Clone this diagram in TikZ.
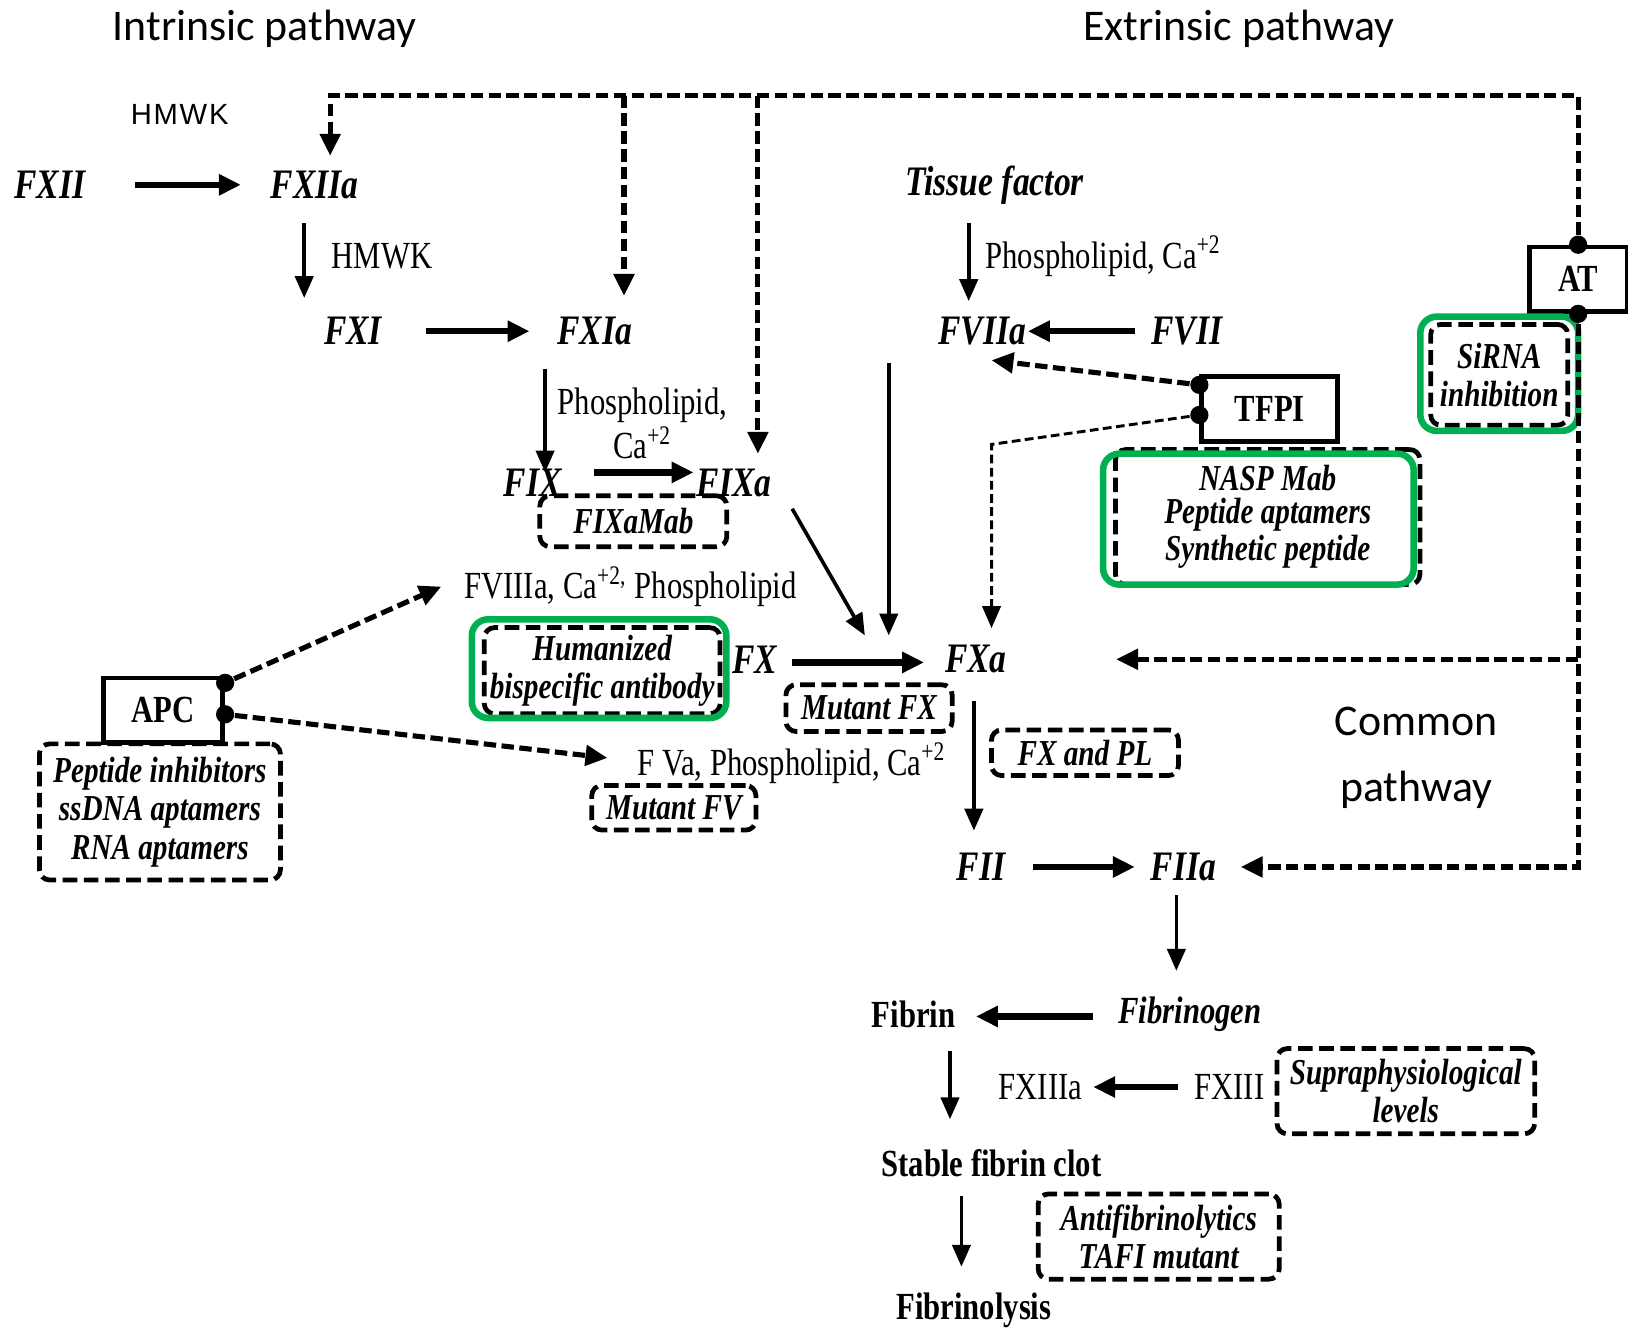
\documentclass[tikz,border=0pt]{standalone}
\usepackage{fontspec}
\setmainfont{Liberation Serif}[FakeStretch=0.8]
\newfontfamily\calfont{Carlito}
\newfontfamily\arialfont{Liberation Sans}[LetterSpace=6]
\usetikzlibrary{arrows.meta,calc}
\definecolor{boxgreen}{RGB}{0,176,80}

\tikzset{
  fac/.style={font=\fontsize{11.5}{14}\selectfont\bfseries\itshape, inner sep=1pt},
  plain/.style={font=\fontsize{10.5}{12}\selectfont, inner sep=1pt},
  strong/.style={font=\fontsize{10.5}{12}\selectfont\bfseries, inner sep=1pt},
  title/.style={font=\fontsize{12}{18}\selectfont\calfont, align=center},
  arr/.style={line width=1pt, -{Triangle[width=5pt,length=6pt]}},
  fatarr/.style={line width=1.7pt, -{Triangle[width=5.5pt,length=6pt]}},
  dline/.style={line width=1.4pt, dash pattern=on 3.4pt off 1.5pt},
  darr/.style={dline, -{Triangle[width=5.5pt,length=6pt]}},
  thinarr/.style={line width=0.8pt, dash pattern=on 2.4pt off 1.2pt, -{Triangle[width=5pt,length=6pt]}},
  cutbox/.style={draw, line width=1.3pt, dash pattern=on 4pt off 1.8pt, rounded corners=2.8pt,
    align=center, font=\fontsize{10}{10.5}\selectfont\bfseries\itshape, inner sep=0pt},
  inhib/.style={draw, line width=1.3pt, font=\fontsize{10.5}{12}\selectfont\bfseries, inner sep=0pt},
  greenbox/.style={draw=boxgreen, line width=1.8pt, rounded corners=4.5pt, inner sep=0pt},
  knob/.style={circle, fill, inner sep=0pt, minimum size=5pt},
}

\begin{document}
\begin{tikzpicture}[x=0.01cm, y=-0.01cm]
\useasboundingbox (0,0) rectangle (1568,1279);

% titles
\node[title] (intr) at (255,28) {Intrinsic pathway};
\node[title] (extr) at (1193,28) {Extrinsic pathway};
\node[title] (common) at (1364,730) {Common\\pathway};

% intrinsic pathway
\node[font=\fontsize{8}{9}\selectfont\arialfont] (hmwkA) at (173,110) {HMWK};
\node[fac] (fxii) at (48,178) {FXII};
\node[fac] (fxiia) at (303,178) {FXIIa};
\node[plain] (hmwkB) at (368,247) {HMWK};
\node[fac] (fxi) at (340,319) {FXI};
\node[fac] (fxia) at (573,319) {FXIa};
\node[plain, align=center, font=\fontsize{10.5}{9.4}\selectfont] (phosA) at (619,408) {Phospholipid,\\Ca\textsuperscript{+2}};
\node[fac] (fix) at (513,465) {FIX};
\node[fac] (fixa) at (707,465) {FIXa};
\node[cutbox, minimum width=1.8cm, minimum height=0.49cm] (fixamab) at (610,502) {FIXaMab};
\node[plain, anchor=west] (fviii) at (443,565) {FVIIIa, Ca\textsuperscript{+2,} Phospholipid};

% extrinsic pathway
\node[fac] (tissue) at (958,178) {Tissue factor};
\node[plain, anchor=west] (phosB) at (945,247) {Phospholipid, Ca\textsuperscript{+2}};
\node[fac] (fviia) at (946,319) {FVIIa};
\node[fac] (fvii) at (1143,319) {FVII};
\node[inhib, minimum width=1.31cm, minimum height=0.62cm] (tfpi) at (1223,394) {TFPI};
\node[cutbox, minimum width=2.93cm, minimum height=1.3cm, font=\fontsize{10}{9}\selectfont\bfseries\itshape] (nasp) at (1221,498) {NASP Mab\\Peptide aptamers\\Synthetic peptide};
\node[greenbox, minimum width=2.99cm, minimum height=1.26cm] (naspg) at (1212,500) {};
\node[inhib, minimum width=0.94cm, minimum height=0.62cm] (at) at (1520,269) {AT};
\node[cutbox, minimum width=1.32cm, minimum height=0.97cm] (sirna) at (1444,361) {SiRNA\\inhibition};
\node[greenbox, minimum width=1.52cm, minimum height=1.1cm] (sirnag) at (1444,360) {};

% APC and its partners
\node[inhib, minimum width=1.15cm, minimum height=0.62cm] (apc) at (157,684) {APC};
\node[cutbox, minimum width=2.32cm, minimum height=1.31cm] (apcinh) at (154,782) {Peptide inhibitors\\ssDNA aptamers\\RNA aptamers};
\node[cutbox, minimum width=2.27cm, minimum height=0.83cm] (hum) at (580,646) {Humanized\\bispecific antibody};
\node[greenbox, minimum width=2.45cm, minimum height=0.95cm] (humg) at (577,644) {};
\node[plain, anchor=west] (fva) at (610,735) {F Va, Phospholipid, Ca\textsuperscript{+2}};
\node[cutbox, minimum width=1.58cm, minimum height=0.43cm] (mutfv) at (649,778) {Mutant FV};

% common pathway
\node[fac] (fx) at (727,635) {FX};
\node[fac] (fxa) at (940,635) {FXa};
\node[cutbox, minimum width=1.6cm, minimum height=0.45cm] (mutfx) at (837,682) {Mutant FX};
\node[cutbox, minimum width=1.8cm, minimum height=0.44cm] (fxpl) at (1045,725) {FX and PL};
\node[fac] (fii) at (945,835) {FII};
\node[fac] (fiia) at (1140,835) {FIIa};
\node[strong] (fibrin) at (880,977) {Fibrin};
\node[fac, font=\fontsize{10.5}{12}\selectfont\bfseries\itshape] (fibrinogen) at (1146,977) {Fibrinogen};
\node[plain] (fxiiia) at (1002,1047) {FXIIIa};
\node[plain] (fxiii) at (1184,1047) {FXIII};
\node[cutbox, minimum width=2.48cm, minimum height=0.82cm] (supra) at (1354,1051) {Supraphysiological\\levels};
\node[strong] (stable) at (955,1120) {Stable fibrin clot};
\node[cutbox, minimum width=2.32cm, minimum height=0.82cm] (antifib) at (1116,1191) {Antifibrinolytics\\TAFI mutant};
\node[strong] (fibrinolysis) at (938,1262) {Fibrinolysis};

% knobs on the inhibitor boxes
\node[knob] (k1) at ($(apc.north east)+(0,7)$) {};
\node[knob] (k2) at ($(apc.east)+(0,4)$) {};
\node[knob] (k3) at ($(tfpi.north west)+(0,10)$) {};
\node[knob] (k4) at ($(tfpi.north west)+(0,39)$) {};
\node[knob] (k5) at (at.north) {};
\node[knob] (k6) at (at.south) {};

% cascade
\draw[fatarr] ($(fxii.center)+(82,0)$) -- ($(fxiia.center)+(-71,0)$);
\draw[arr] ($(fxiia.center)+(-10,37)$) -- ($(fxi.center)+(-47,-32)$);
\draw[fatarr] ($(fxi.center)+(70,0)$) -- ($(fxia.center)+(-63,0)$);
\draw[arr] ($(fxia.center)+(-48,36)$) -- ($(fix.center)+(12,-10)$);
\draw[fatarr] ($(fix.center)+(59,-10)$) -- ($(fixa.center)+(-39,-10)$);
\draw[arr] ($(fixa.center)+(56,25)$) -- ($(fxa.center)+(-107,-23)$);
\draw[arr] ($(fviia.center)+(-90,31)$) -- ($(fxa.center)+(-84,-23)$);
\draw[arr] ($(tissue.center)+(-25,37)$) -- ($(fviia.center)+(-13,-29)$);
\draw[fatarr] ($(fvii.center)+(-50,0)$) -- ($(fviia.center)+(44,0)$);
\draw[fatarr] ($(fx.center)+(36,3)$) -- ($(fxa.center)+(-50,3)$);
\draw[arr] ($(fxa.center)+(-2,40)$) -- ($(fii.center)+(-7,-35)$);
\draw[fatarr] ($(fii.center)+(50,0)$) -- ($(fiia.center)+(-47,0)$);
\draw[arr] ($(fiia.center)+(-7,27)$) -- ($(fibrinogen.center)+(-13,-42)$);
\draw[fatarr] ($(fibrinogen.center)+(-93,2)$) -- ($(fibrin.center)+(60,2)$);
\draw[arr] ($(fibrin.center)+(35,35)$) -- ($(stable.center)+(-40,-42)$);
\draw[fatarr] ($(fxiii.center)+(-49,0)$) -- ($(fxiiia.center)+(51,0)$);
\draw[arr] ($(stable.center)+(-29,32)$) -- ($(fibrinolysis.center)+(-12,-42)$);

% inhibition by APC and TFPI
\draw[darr] (k1) -- ($(fviii.west)+(-18,0)$);
\draw[darr] (k2) -- ($(fva.west)+(-25,-5)$);
\draw[darr] (k3) -- ($(fviia.center)+(9,28)$);
\coordinate (bend) at ($(fxa.center)+(15,-207)$);
\draw[thinarr] (k4) -- (bend) -- ($(fxa.center)+(15,-30)$);

% inhibition by AT
\coordinate (topleft) at ($(fxiia.center)+(15,-86)$);
\draw[darr] (k5) |- (topleft) -- ($(fxiia.center)+(15,-28)$);
\draw[darr] (fxia.center |- topleft) ++(28,0) -- ($(fxia.center)+(28,-34)$);
\draw[darr] (fixa.center |- topleft) ++(23,0) -- ($(fixa.center)+(23,-28)$);
\draw[darr] (k6) |- ($(fiia.center)+(55,0)$);
\draw[darr] (k6 |- fxa.center) -- ($(fxa.center)+(135,0)$);
\end{tikzpicture}
\end{document}
